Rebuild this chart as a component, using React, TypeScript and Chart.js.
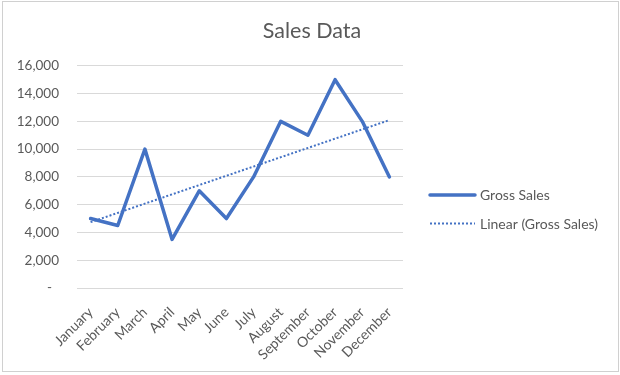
import { useEffect, useRef } from 'react';
import { Chart, registerables } from 'chart.js';

Chart.register(...registerables);

const months = [
  'January', 'February', 'March', 'April', 'May', 'June',
  'July', 'August', 'September', 'October', 'November', 'December',
];
const grossSales = [5000, 4500, 10000, 3500, 7000, 5000, 8000, 12000, 11000, 15000, 12000, 8000];
// Linear trendline: start and end values, straight between.
const trendLine: (number | null)[] = [4740, null, null, null, null, null, null, null, null, null, null, 12090];
const yTickValues = [0, 2000, 4000, 6000, 8000, 10000, 12000, 14000, 16000];
const yTickLabels = ['-  ', '2,000', '4,000', '6,000', '8,000', '10,000', '12,000', '14,000', '16,000'];

const FONT = 'Lato';
const TEXT = '#595959';
const BLUE = '#4472C4';
const GRID = '#d9d9d9';

// Legend drawn beside the plot, using each dataset's own line style.
const sideLegend = {
  id: 'sideLegend',
  afterDraw(chart: any, _args: any, opts: any) {
    const { ctx } = chart;
    ctx.save();
    chart.data.datasets.forEach((ds: any, i: number) => {
      const y = opts.top + i * opts.spacing;
      ctx.beginPath();
      ctx.strokeStyle = ds.borderColor;
      ctx.lineWidth = ds.borderWidth;
      ctx.setLineDash(ds.borderDash || []);
      ctx.lineCap = ds.borderCapStyle || 'butt';
      ctx.moveTo(opts.left, y);
      ctx.lineTo(opts.left + opts.sample, y);
      ctx.stroke();
      ctx.setLineDash([]);
      ctx.fillStyle = opts.color;
      ctx.font = `${opts.size}px ${opts.family}`;
      ctx.textBaseline = 'middle';
      ctx.textAlign = 'left';
      ctx.fillText(ds.label, opts.left + opts.sample + opts.gap, y + 0.5);
    });
    ctx.restore();
  },
};

export default function App() {
  const ref = useRef<HTMLCanvasElement | null>(null);

  useEffect(() => {
    if (!ref.current) return;
    const chart = new Chart(ref.current, {
      type: 'line',
      data: {
        labels: months,
        datasets: [
          {
            label: 'Gross Sales',
            data: grossSales,
            borderColor: BLUE,
            backgroundColor: BLUE,
            borderWidth: 3.5,
            pointRadius: 0,
            pointHoverRadius: 0,
            tension: 0,
            borderJoinStyle: 'round',
            borderCapStyle: 'round',
            order: 1,
          },
          {
            label: 'Linear (Gross Sales)',
            data: trendLine,
            borderColor: BLUE,
            backgroundColor: BLUE,
            borderWidth: 2,
            borderDash: [2, 2],
            borderCapStyle: 'butt',
            pointRadius: 0,
            pointHoverRadius: 0,
            spanGaps: true,
            order: 0,
          },
        ],
      },
      plugins: [sideLegend],
      options: {
        animation: false,
        responsive: false,
        events: [],
        layout: { padding: { top: 0, left: 4, right: 0, bottom: 4 } },
        plugins: {
          tooltip: { enabled: false },
          legend: { display: false },
          title: {
            display: true,
            text: 'Sales Data',
            color: TEXT,
            font: { family: FONT, size: 21.5, weight: 'normal', lineHeight: 1.2 },
            padding: { top: 18, bottom: 22 },
          },
          sideLegend: {
            left: 430,
            top: 195,
            spacing: 28.5,
            sample: 45,
            gap: 5,
            color: TEXT,
            family: FONT,
            size: 14,
          },
        } as any,
        scales: {
          x: {
            offset: true,
            grid: { display: false, drawTicks: false, offset: true },
            border: { display: false },
            ticks: {
              color: TEXT,
              font: { family: FONT, size: 14 },
              minRotation: 45,
              maxRotation: 45,
              padding: 16,
              autoSkip: false,
            },
            afterFit: (s: any) => { s.height = 83; },
          },
          y: {
            min: 0,
            max: 16000,
            grid: { color: GRID, lineWidth: 1, drawTicks: false },
            border: { display: false },
            ticks: {
              stepSize: 2000,
              color: TEXT,
              font: { family: FONT, size: 13.5 },
              padding: 18,
              callback: (v: any) => {
                const i = yTickValues.indexOf(Number(v));
                return i >= 0 ? yTickLabels[i] : '';
              },
            },
            afterFit: (s: any) => { s.width = 73; },
          },
          legendSpace: {
            type: 'linear',
            position: 'right',
            display: true,
            grid: { display: false, drawTicks: false },
            border: { display: false },
            ticks: { display: false },
            afterFit: (s: any) => { s.width = 217; },
          },
        },
      },
    } as any);
    return () => chart.destroy();
  }, []);

  return (
    <div style={{ position: 'absolute', left: 0, top: 0, width: 620, height: 375, background: '#fff' }}>
      <div
        style={{
          position: 'absolute', left: 2, top: 1, width: 617, height: 371,
          boxSizing: 'border-box', border: '1px solid #d0d0d0',
        }}
      />
      <canvas ref={ref} width={620} height={375} style={{ position: 'absolute', left: 0, top: 0 }} />
    </div>
  );
}
